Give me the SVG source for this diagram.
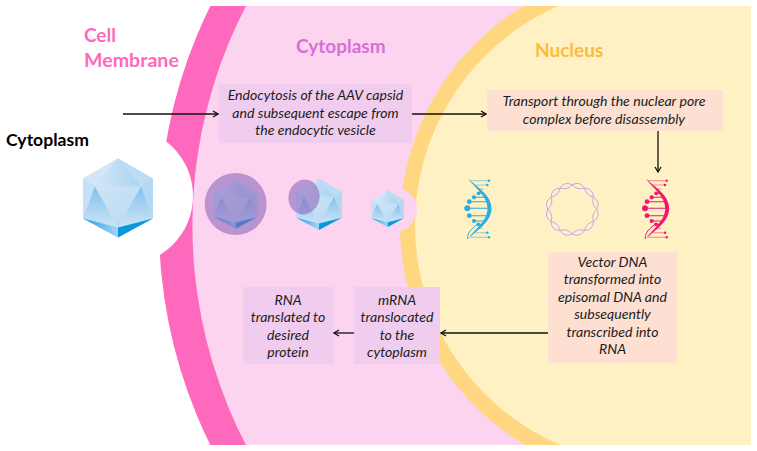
<svg xmlns="http://www.w3.org/2000/svg" xmlns:xlink="http://www.w3.org/1999/xlink" width="757" height="451" viewBox="0 0 757 451">
  <style>
    text { font-family: Lato, "Liberation Sans", sans-serif; }
    .step { font-size: 14.100px; font-style: italic; fill: #1c1c1c; text-anchor: middle; }
    .title { font-size: 19px; font-weight: 700; }
    .purple { fill: #f0cdee; }
    .peach { fill: #fde0d2; }
    .link { fill: none; stroke: #111; stroke-width: 1.3; marker-end: url(#head); }
    .strand { fill: none; stroke: #c3a9ec; stroke-width: 1; }
  </style>
  <defs>
    <clipPath id="panel"><rect x="0" y="6" width="751" height="439"/></clipPath>
    <marker id="head" viewBox="0 0 8 8" refX="7" refY="4" markerWidth="8" markerHeight="8" markerUnits="userSpaceOnUse" orient="auto">
      <path d="M2 1 L7 4 L2 7" fill="none" stroke="#111" stroke-width="1.3"/>
    </marker>
    <linearGradient id="g1" x1="0" y1="0" x2="1" y2="0"><stop offset="0" stop-color="#d3e6f7"/><stop offset="1" stop-color="#a9d3f2"/></linearGradient>
    <linearGradient id="g2" x1="0" y1="0" x2="1" y2="1"><stop offset="0" stop-color="#d0e4f6"/><stop offset="1" stop-color="#b6d9f4"/></linearGradient>
    <linearGradient id="g3" x1="0" y1="0" x2="0" y2="1"><stop offset="0" stop-color="#7fc0ec"/><stop offset="1" stop-color="#cfe5f7"/></linearGradient>
    <linearGradient id="g4" x1="0" y1="0" x2="1" y2="0"><stop offset="0" stop-color="#1ea0e2"/><stop offset="1" stop-color="#a5d6f3"/></linearGradient>
    <!-- icosahedral capsid, drawn around its own centre -->
    <g id="capsid">
      <polygon points="0,-39 35,-19 35,21 0,40 -35,21 -35,-19" fill="#bcdcf5"/>
      <polygon points="0,-39 -35,-19 -23,-11" fill="#d3e6f7"/>
      <polygon points="0,-39 35,-19 23,-11" fill="#bddcf5"/>
      <polygon points="0,-39 -23,-11 23,-11" fill="url(#g1)"/>
      <polygon points="-35,-19 -23,-11 -35,21" fill="#c6e0f6"/>
      <polygon points="35,-19 23,-11 35,21" fill="#b2d8f4"/>
      <polygon points="-23,-11 -35,21 0,30" fill="url(#g3)"/>
      <polygon points="23,-11 35,21 0,30" fill="url(#g3)"/>
      <polygon points="-23,-11 23,-11 0,30" fill="url(#g2)"/>
      <polygon points="-35,21 0,30 0,40" fill="url(#g4)"/>
      <polygon points="35,21 0,30 0,40" fill="#0a98dc"/>
    </g>
    <!-- double helix; colour comes from the using element -->
    <g id="helix" fill="currentColor" stroke="currentColor">
      <path d="M18,13.500 C27,22 41.500,30 41.500,43.500 C41.500,57 27,65 18,74 C25,64 37.500,56 37.500,43.500 C37.500,31 25,23 18,13.500Z" stroke="none"/>
      <path d="M17.500,74 C17.500,67 22,63 29,58.500" fill="none" stroke-width="1"/>
      <g stroke-width="1.100" opacity="0.5">
        <path d="M20,15.700 H39 M25,20 H37 M28,24 H34 M28,63.300 H33 M25,67.700 H37 M20,72.300 H39"/>
      </g>
      <g stroke-width="1.100">
        <path d="M28.500,28.300 H33 M24,32.300 H36.700 M19.300,36.700 H38.300 M17.300,43.300 H39.300 M19.300,50.700 H38.300 M24,56 H35 M28.300,59.300 H33"/>
      </g>
      <g stroke="none">
        <circle cx="39" cy="15.700" r="1.200"/>
        <circle cx="37.300" cy="20" r="1.300"/>
        <circle cx="28.500" cy="28.300" r="1.900"/>
        <circle cx="24" cy="32.300" r="2.100"/>
        <circle cx="19.300" cy="36.700" r="2.400"/>
        <circle cx="17.300" cy="43.300" r="3"/>
        <circle cx="19.300" cy="50.700" r="2.400"/>
        <circle cx="24" cy="56" r="2.100"/>
        <circle cx="28.300" cy="59.300" r="1.900"/>
        <circle cx="37.300" cy="67.700" r="1.300"/>
        <circle cx="39" cy="72.300" r="1.200"/>
      </g>
    </g>
  </defs>

  <rect width="757" height="451" fill="#fff"/>

  <!-- nested cell compartments -->
  <g id="compartments" clip-path="url(#panel)">
    <circle cx="654" cy="225.500" r="495" fill="#ff69bd"/>
    <circle cx="669" cy="225.500" r="476.600" fill="#fdd4ef"/>
    <circle cx="656" cy="225" r="256" fill="#ffd780"/>
    <circle cx="654" cy="225" r="239" fill="#fff1c4"/>
    <rect x="654" y="6" width="103" height="439" fill="#fff1c4"/>
    <circle cx="124" cy="196" r="69" fill="#fff"/>
    <circle cx="395" cy="209.500" r="22" fill="#fdd4ef"/>
  </g>

  <g id="region-labels">
    <text class="title" x="84" y="42" fill="#ff69bd">Cell</text>
    <text class="title" x="84" y="67" fill="#ff69bd" style="font-size:19.600px">Membrane</text>
    <text class="title" x="296" y="53" fill="#d76fd6">Cytoplasm</text>
    <text class="title" x="535" y="57" fill="#fdbb3c">Nucleus</text>
    <text class="title" x="6" y="146" fill="#000" style="font-size:17.600px">Cytoplasm</text>
  </g>

  <g id="capsid-outside"><use href="#capsid" transform="translate(118 197.500)"/></g>
  <g id="capsid-vesicle">
    <use href="#capsid" transform="translate(235.700 204) scale(0.620)"/>
    <circle cx="235.700" cy="204" r="31" fill="#8a66bb" fill-opacity="0.58"/>
  </g>
  <g id="capsid-escaping">
    <use href="#capsid" transform="translate(319 204) scale(0.650)"/>
    <ellipse cx="304" cy="197" rx="15.500" ry="17.500" transform="rotate(15 304 197)" fill="#8a66bb" fill-opacity="0.58"/>
  </g>
  <g id="capsid-free"><use href="#capsid" transform="translate(387.700 208.500) scale(0.460)"/></g>

  <g id="dna-vector"><use href="#helix" transform="translate(450 165)" style="color:#2bace2"/></g>
  <g id="dna-episomal" transform="translate(572.300 209.300)">
    <path class="strand" d="M24.500,0 Q28.500,7.600 21.200,12.250 Q13.800,13.800 12.250,21.200 Q7.600,28.500 0,24.500 Q-5.050,18.800 -12.250,21.200 Q-20.900,20.900 -21.200,12.250 Q-18.800,5.050 -24.500,0 Q-28.500,-7.600 -21.200,-12.250 Q-13.800,-13.800 -12.250,-21.200 Q-7.600,-28.500 0,-24.500 Q5.050,-18.800 12.250,-21.200 Q20.900,-20.900 21.200,-12.250 Q18.800,-5.050 24.500,0Z"/>
    <path class="strand" d="M24.500,0 Q18.800,5.050 21.200,12.250 Q20.900,20.900 12.250,21.200 Q5.050,18.800 0,24.500 Q-7.600,28.500 -12.250,21.200 Q-13.800,13.800 -21.200,12.250 Q-28.500,7.600 -24.500,0 Q-18.800,-5.050 -21.200,-12.250 Q-20.900,-20.900 -12.250,-21.200 Q-5.050,-18.800 0,-24.500 Q7.600,-28.500 12.250,-21.200 Q13.800,-13.800 21.200,-12.250 Q28.500,-7.600 24.500,0Z"/>
  </g>
  <g id="dna-transcribed"><use href="#helix" transform="translate(627.700 165)" style="color:#f0186f"/></g>

  <!-- process steps -->
  <g id="step-endocytosis">
    <rect class="purple" x="219" y="84" width="193" height="59"/>
    <text class="step" x="315.500" y="100">Endocytosis of the AAV capsid</text>
    <text class="step" x="315.500" y="118">and subsequent escape from</text>
    <text class="step" x="315.500" y="135">the endocytic vesicle</text>
  </g>
  <g id="step-transport">
    <rect class="peach" x="487" y="90" width="236" height="41"/>
    <text class="step" x="604" y="106">Transport through the nuclear pore</text>
    <text class="step" x="604" y="124">complex before disassembly</text>
  </g>
  <g id="step-episomal">
    <rect class="peach" x="548" y="252" width="129" height="111"/>
    <text class="step" x="612.500" y="267">Vector DNA</text>
    <text class="step" x="612.500" y="284">transformed into</text>
    <text class="step" x="612.500" y="302">episomal DNA and</text>
    <text class="step" x="612.500" y="319">subsequently</text>
    <text class="step" x="612.500" y="337">transcribed into</text>
    <text class="step" x="612.500" y="354">RNA</text>
  </g>
  <g id="step-mrna">
    <rect class="purple" x="354" y="287" width="86" height="77"/>
    <text class="step" x="397" y="305">mRNA</text>
    <text class="step" x="397" y="322">translocated</text>
    <text class="step" x="397" y="340">to the</text>
    <text class="step" x="397" y="357">cytoplasm</text>
  </g>
  <g id="step-protein">
    <rect class="purple" x="243.500" y="287" width="89.500" height="77"/>
    <text class="step" x="288" y="305">RNA</text>
    <text class="step" x="288" y="322">translated to</text>
    <text class="step" x="288" y="340">desired</text>
    <text class="step" x="288" y="357">protein</text>
  </g>

  <g id="connectors">
    <line class="link" x1="123" y1="114" x2="218" y2="114"/>
    <line class="link" x1="412" y1="114" x2="486" y2="114"/>
    <line class="link" x1="658" y1="131" x2="658" y2="172"/>
    <line class="link" x1="548" y1="333" x2="441" y2="333"/>
    <line class="link" x1="354" y1="333" x2="334" y2="333"/>
  </g>
</svg>
